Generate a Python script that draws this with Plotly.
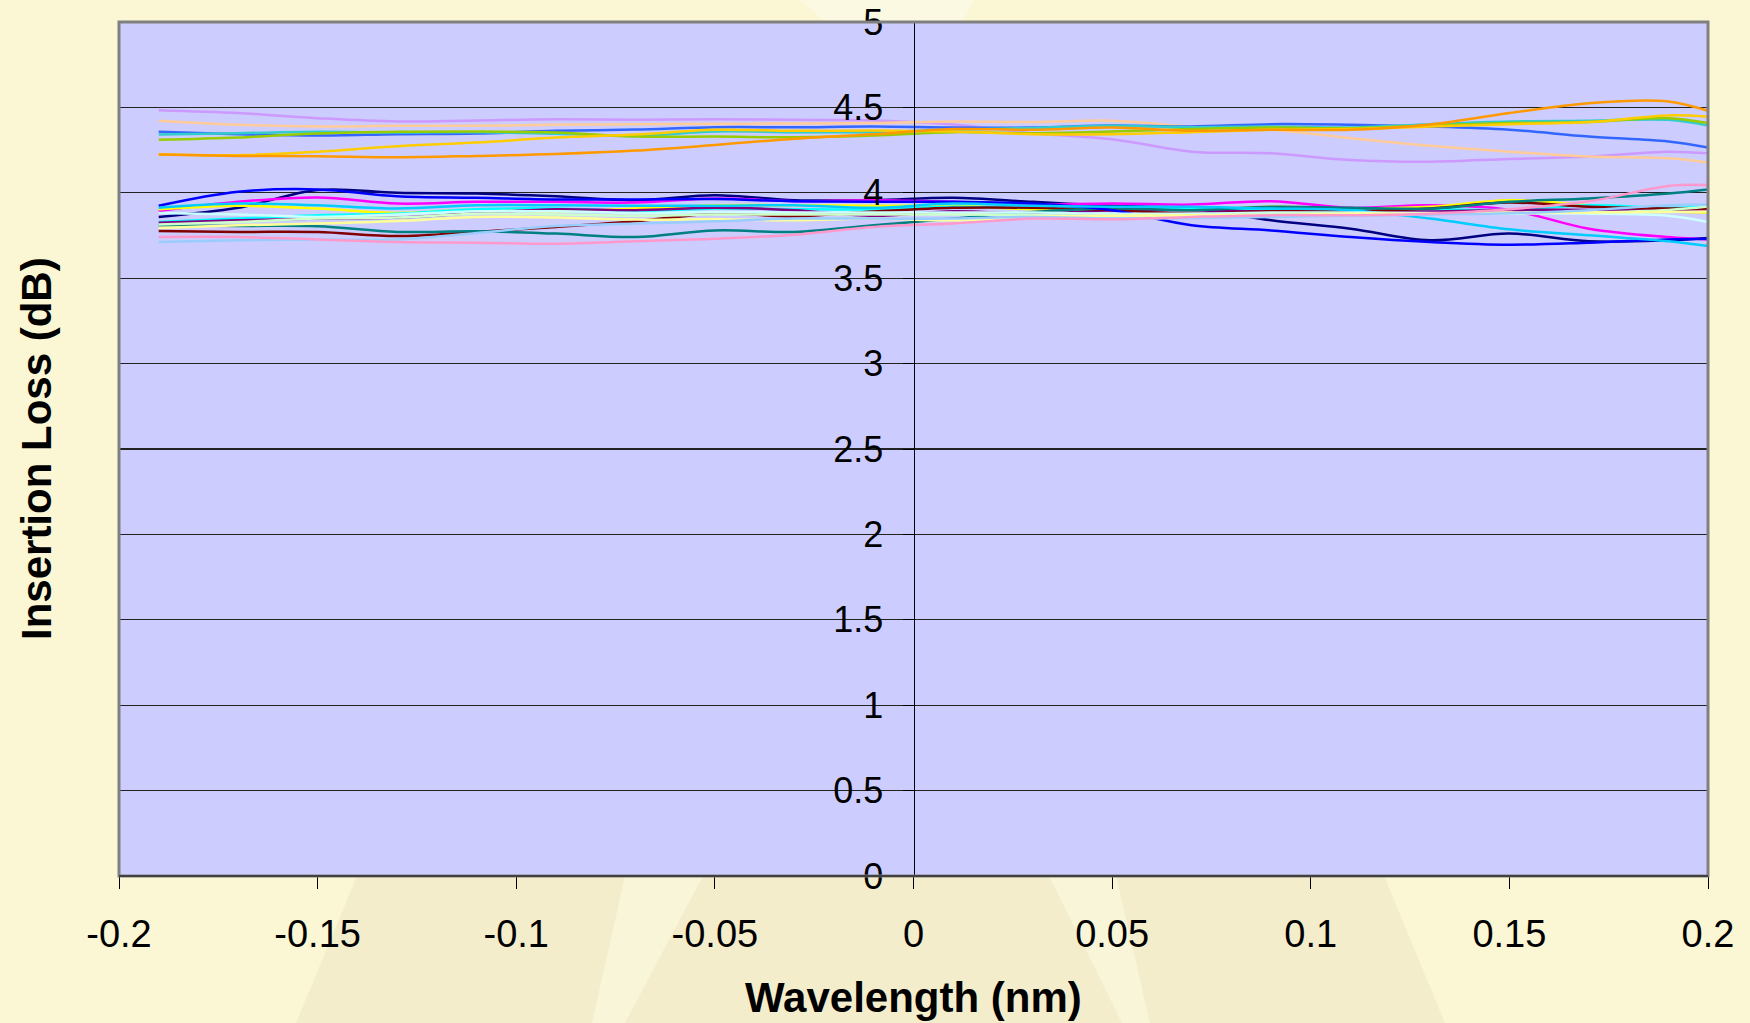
import plotly.graph_objects as go

# ---------------- data ----------------
wavelength = [-0.19, -0.17, -0.15, -0.13, -0.11, -0.09, -0.07, -0.05, -0.03, -0.01,
              0.01, 0.03, 0.05, 0.07, 0.09, 0.11, 0.13, 0.15, 0.17, 0.19, 0.20]

s_navy = [3.859, 3.912, 4.016, 4.000, 3.996, 3.980, 3.957, 3.986, 3.957, 3.957, 3.971, 3.947, 3.924, 3.908, 3.839, 3.790, 3.722, 3.761, 3.716, 3.722, 3.735]
s_magenta = [3.894, 3.947, 3.973, 3.937, 3.947, 3.947, 3.943, 3.967, 3.951, 3.957, 3.947, 3.931, 3.937, 3.931, 3.951, 3.912, 3.927, 3.900, 3.790, 3.741, 3.727]
s_yellow = [3.904, 3.924, 3.908, 3.882, 3.902, 3.892, 3.908, 3.927, 3.927, 3.924, 3.924, 3.904, 3.908, 3.898, 3.918, 3.908, 3.918, 3.957, 3.927, 3.892, 3.884]
s_cyan = [3.829, 3.849, 3.869, 3.878, 3.904, 3.908, 3.892, 3.908, 3.904, 3.904, 3.918, 3.912, 3.912, 3.908, 3.904, 3.898, 3.904, 3.900, 3.927, 3.912, 3.918]
s_purple = [3.825, 3.839, 3.849, 3.855, 3.882, 3.904, 3.898, 3.912, 3.898, 3.865, 3.892, 3.878, 3.898, 3.898, 3.890, 3.890, 3.890, 3.900, 3.900, 3.900, 3.900]
s_darkred = [3.776, 3.771, 3.770, 3.747, 3.771, 3.800, 3.833, 3.878, 3.863, 3.890, 3.912, 3.912, 3.898, 3.878, 3.892, 3.892, 3.908, 3.943, 3.918, 3.908, 3.908]
s_teal = [3.810, 3.806, 3.804, 3.771, 3.775, 3.761, 3.741, 3.780, 3.771, 3.810, 3.849, 3.888, 3.908, 3.898, 3.918, 3.912, 3.908, 3.947, 3.967, 3.996, 4.020]
s_blue = [3.924, 4.006, 4.020, 3.980, 3.971, 3.961, 3.961, 3.963, 3.951, 3.947, 3.947, 3.937, 3.898, 3.810, 3.780, 3.741, 3.712, 3.696, 3.708, 3.727, 3.731]
s_skyblue = [3.912, 3.937, 3.927, 3.908, 3.927, 3.927, 3.924, 3.924, 3.927, 3.912, 3.937, 3.924, 3.918, 3.918, 3.908, 3.898, 3.849, 3.786, 3.751, 3.716, 3.688]
s_lightturq = [3.882, 3.873, 3.859, 3.873, 3.892, 3.892, 3.882, 3.888, 3.885, 3.884, 3.884, 3.884, 3.878, 3.878, 3.884, 3.884, 3.882, 3.880, 3.878, 3.865, 3.829]
s_lightgreen = [3.814, 3.829, 3.849, 3.855, 3.878, 3.873, 3.865, 3.873, 3.873, 3.873, 3.873, 3.870, 3.865, 3.869, 3.878, 3.878, 3.878, 3.880, 3.885, 3.900, 3.920]
s_lightyellow = [3.794, 3.810, 3.820, 3.835, 3.859, 3.855, 3.843, 3.845, 3.839, 3.849, 3.839, 3.859, 3.865, 3.869, 3.869, 3.878, 3.878, 3.885, 3.885, 3.888, 3.890]
s_paleblue = [3.712, 3.722, 3.727, 3.727, 3.765, 3.806, 3.820, 3.833, 3.849, 3.849, 3.849, 3.859, 3.849, 3.853, 3.859, 3.865, 3.873, 3.880, 3.898, 3.927, 3.931]
s_rose = [3.741, 3.741, 3.727, 3.712, 3.708, 3.702, 3.716, 3.731, 3.755, 3.800, 3.820, 3.849, 3.845, 3.859, 3.869, 3.869, 3.878, 3.904, 3.950, 4.040, 4.045]
s_lavender = [4.484, 4.467, 4.437, 4.418, 4.424, 4.430, 4.427, 4.431, 4.427, 4.424, 4.400, 4.349, 4.314, 4.241, 4.231, 4.192, 4.182, 4.198, 4.212, 4.241, 4.231]
s_tan = [4.422, 4.398, 4.388, 4.392, 4.392, 4.398, 4.402, 4.404, 4.406, 4.408, 4.418, 4.414, 4.422, 4.388, 4.369, 4.320, 4.275, 4.241, 4.212, 4.202, 4.178]
s_ltblue = [4.357, 4.343, 4.335, 4.343, 4.347, 4.363, 4.370, 4.384, 4.384, 4.388, 4.382, 4.382, 4.394, 4.388, 4.402, 4.398, 4.388, 4.369, 4.329, 4.300, 4.265]
s_aqua = [4.341, 4.349, 4.357, 4.353, 4.355, 4.345, 4.333, 4.359, 4.355, 4.355, 4.370, 4.380, 4.392, 4.384, 4.388, 4.382, 4.402, 4.418, 4.422, 4.427, 4.394]
s_lime = [4.310, 4.324, 4.347, 4.357, 4.359, 4.353, 4.329, 4.329, 4.325, 4.335, 4.355, 4.349, 4.359, 4.373, 4.382, 4.378, 4.394, 4.408, 4.414, 4.437, 4.408]
s_gold = [4.225, 4.220, 4.241, 4.273, 4.294, 4.324, 4.341, 4.369, 4.363, 4.365, 4.359, 4.343, 4.343, 4.355, 4.369, 4.373, 4.388, 4.402, 4.414, 4.453, 4.445]
s_orange = [4.224, 4.216, 4.214, 4.208, 4.216, 4.227, 4.247, 4.280, 4.316, 4.343, 4.373, 4.369, 4.382, 4.363, 4.369, 4.369, 4.400, 4.467, 4.525, 4.535, 4.480]

series = [
    (s_navy, "#000080"), (s_magenta, "#FF00FF"), (s_yellow, "#FFFF00"), (s_cyan, "#00FFFF"),
    (s_purple, "#800080"), (s_darkred, "#800000"), (s_teal, "#008080"), (s_blue, "#0000FF"),
    (s_skyblue, "#00CCFF"), (s_lightturq, "#CCFFFF"), (s_lightgreen, "#CCFFCC"),
    (s_lightyellow, "#FFFF99"), (s_paleblue, "#99CCFF"), (s_rose, "#FF99CC"),
    (s_lavender, "#CC99FF"), (s_tan, "#FFCC99"), (s_ltblue, "#3366FF"), (s_aqua, "#33CCCC"),
    (s_lime, "#99CC00"), (s_gold, "#FFCC00"), (s_orange, "#FF9900"),
]

x_tickvals = [-0.2, -0.15, -0.1, -0.05, 0, 0.05, 0.1, 0.15, 0.2]
x_ticktext = ["-0.2", "-0.15", "-0.1", "-0.05", "0", "0.05", "0.1", "0.15", "0.2"]
y_tickvals = [0, 0.5, 1, 1.5, 2, 2.5, 3, 3.5, 4, 4.5, 5]
y_ticktext = ["0", "0.5", "1", "1.5", "2", "2.5", "3", "3.5", "4", "4.5", "5"]

x_title = "Wavelength (nm)"
y_title = "Insertion Loss (dB)"

# ---------------- layout geometry ----------------
W, H = 1750, 1023
PL, PR, PT, PB = 119, 1708, 22, 876
FONT = "Liberation Sans, Arial, sans-serif"
PAPER = "#FBF6D4"

def px_x(px):
    return (px - PL) / (PR - PL)

def px_y(py):
    return (PB - py) / (PB - PT)

fig = go.Figure()
for vals, col in series:
    fig.add_trace(go.Scatter(
        x=wavelength, y=vals, mode="lines",
        line=dict(color=col, width=2.5, shape="spline", smoothing=1.0),
        showlegend=False, hoverinfo="skip"))

# background decoration (only in the margins, outside the plot area)
def poly(points):
    pts = [(px_x(a), px_y(b)) for a, b in points]
    return "M " + " L ".join(f"{a:.5f},{b:.5f}" for a, b in pts) + " Z"

def deco(points, color):
    return dict(type="path", xref="paper", yref="paper", layer="below",
                path=poly(points), fillcolor=color, line=dict(width=0))

shapes = [
    deco([(357, PB), (1384, PB), (1445, H), (296, H)], "#F3EDCC"),
    deco([(625, PB), (703, PB), (625, H), (592, H)], "#F9F5D9"),
    deco([(1049, PB), (1116, PB), (1150, H), (1122, H)], "#F9F5D9"),
    deco([(800, 0), (975, 0), (962, PT), (826, PT)], "#FCF9E2"),
    dict(type="rect", xref="paper", yref="paper", x0=0, x1=1, y0=0, y1=1,
         layer="above", line=dict(color="#808080", width=3)),
    dict(type="line", xref="paper", yref="paper", x0=0, x1=1, y0=0, y1=0,
         layer="above", line=dict(color="#000000", width=1)),
]

fig.update_layout(
    width=W, height=H,
    margin=dict(l=PL, r=W - PR, t=PT, b=H - PB, pad=0, autoexpand=False),
    paper_bgcolor=PAPER,
    plot_bgcolor="#CCCCFF",
    font=dict(family=FONT, color="black"),
    shapes=shapes,
    hovermode=False,
    xaxis=dict(range=[-0.2, 0.2], tickvals=x_tickvals, ticktext=x_ticktext,
               showgrid=False, zeroline=False, showline=True, linecolor="black",
               linewidth=1, ticks="outside", ticklen=12, tickcolor="black",
               tickfont=dict(size=38, family=FONT, color="black"),
               ticklabelstandoff=12, automargin=False),
    yaxis=dict(range=[0, 5], tickvals=y_tickvals, ticktext=y_ticktext,
               anchor="free", position=0.5,
               showgrid=True, gridcolor="#222222", gridwidth=1.2,
               zeroline=False, showline=True, linecolor="black", linewidth=1,
               ticks="outside", ticklen=11, tickcolor="black",
               tickfont=dict(size=36, family=FONT, color="black"),
               ticklabelstandoff=12, automargin=False),
    annotations=[
        dict(text=f"<b>{x_title}</b>", xref="paper", yref="paper",
             x=px_x((PL + PR) / 2), y=px_y(997), xanchor="center", yanchor="middle",
             showarrow=False, font=dict(size=42, family=FONT, color="black")),
        dict(text=f"<b>{y_title}</b>", xref="paper", yref="paper",
             x=px_x(36), y=px_y(449), xanchor="center", yanchor="middle",
             textangle=-90, showarrow=False,
             font=dict(size=42, family=FONT, color="black")),
    ],
)

fig.write_html(
    "out.html",
    config={"displayModeBar": False, "staticPlot": True},
    post_script=("document.body.style.margin='0';"
                 "document.body.style.overflow='hidden';"
                 f"document.body.style.background='{PAPER}';"),
)
